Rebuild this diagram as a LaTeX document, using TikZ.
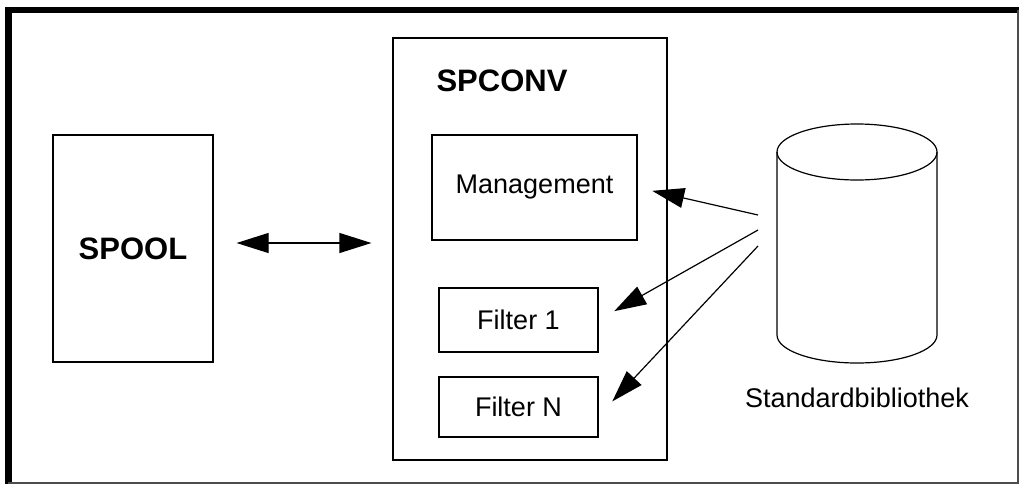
\documentclass[tikz,border=0pt]{standalone}
\usepackage{fontspec}
\setmainfont{Liberation Sans}
\usetikzlibrary{arrows.meta,positioning}

\begin{document}
\begin{tikzpicture}[x=1pt, y=-1pt, >={Triangle[length=32pt,width=20pt]},
  box/.style={draw, line width=1.2pt, inner sep=0pt},
  lbl/.style={font=\fontsize{27}{30}\selectfont},
  ttl/.style={font=\fontsize{31}{34}\selectfont\bfseries}]
  \useasboundingbox (0,0) rectangle (1022,485);
  % outer frame
  \draw[line width=6.5pt] (5,10) -- (1019,10);
  \draw[line width=7pt] (8.5,7) -- (8.5,484);
  \draw[line width=2pt, black!70] (1018,10) -- (1018,483) -- (8,483);
  % spooler and converter
  \node[box, ttl, minimum width=160, minimum height=227] (spool) at (133,248.5) {SPOOL};
  \node[box, minimum width=274, minimum height=422] (spconv) at (530,249) {};
  \node[ttl, anchor=west] (spconvlbl) at (433,81) {SPCONV};
  \node[box, lbl, minimum width=205, minimum height=105] (mgmt) at (534.5,187.5) {Management};
  \node[box, lbl, minimum width=159, minimum height=64] (filt1) at (518.5,320) {Filter 1};
  \node[box, lbl, minimum width=159, minimum height=60] (filtN) at (518.5,407) {Filter N};
  \draw[<->, line width=1.2pt, shorten <=23pt, shorten >=21pt]
    ([yshift=5.5pt]spool.east) -- ([yshift=5.5pt]spool.east -| spconv.west);
  % library
  \draw[line width=1.2pt] (777,152) -- (777,335) arc[start angle=180, end angle=0, x radius=80, y radius=28] -- (937,152);
  \draw[line width=1.2pt] (857,152) ellipse[x radius=80, y radius=28];
  \node[lbl] (liblbl) at (857,398) {Standardbibliothek};
  \coordinate (s1) at (758,215);
  \coordinate (s2) at (758,230);
  \coordinate (s3) at (758,246);
  \draw[->, line width=1.2pt, shorten >=15pt] (s1) -- (mgmt.east);
  \draw[->, line width=1.2pt, shorten >=18pt] (s2) -- (filt1.east);
  \draw[->, line width=1.2pt, shorten >=20pt] (s3) -- ([yshift=-9pt]filtN.east);
\end{tikzpicture}
\end{document}
